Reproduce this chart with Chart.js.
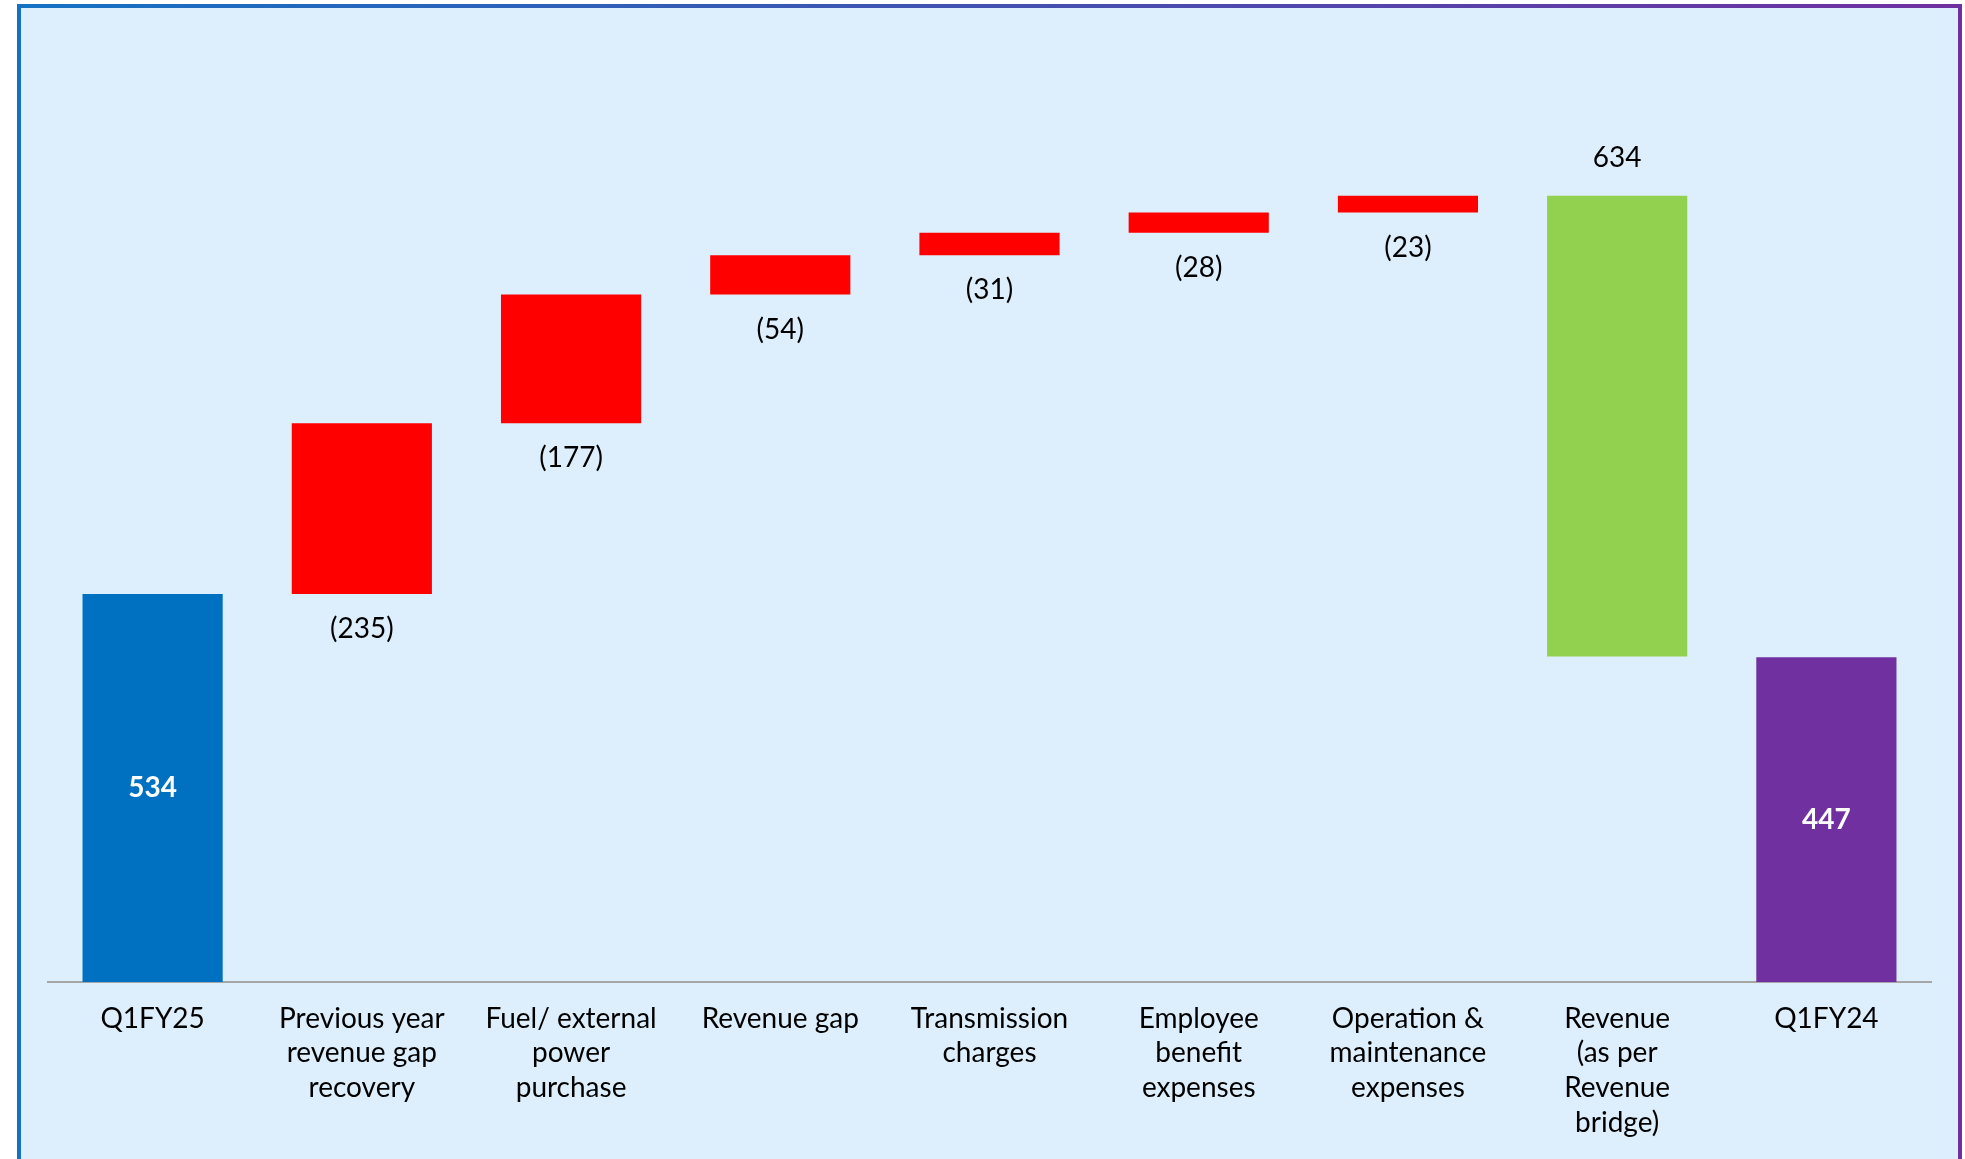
<!DOCTYPE html>
<html>
<head>
<meta charset="utf-8">
<script src="https://cdn.jsdelivr.net/npm/chart.js@4.4.1/dist/chart.umd.min.js"></script>
<style>
  html, body { margin: 0; padding: 0; background: #fff; }
  body { width: 1965px; height: 1159px; position: relative; overflow: hidden; }
  #frame {
    position: absolute; left: 17px; top: 4px; width: 1937px; height: 1151px;
    border: 4px solid; border-image: linear-gradient(to right, #1572C2, #7030A0) 1;
    background: #DDEFFD;
  }
  #myChart { position: absolute; left: 0; top: 0; }
</style>
</head>
<body>
<div id="frame"></div>
<canvas id="myChart" width="1965" height="1159"></canvas>
<script>
const categories = [
  'Q1FY25',
  ['Previous year', 'revenue gap', 'recovery'],
  ['Fuel/ external', 'power', 'purchase'],
  'Revenue gap',
  ['Transmission', 'charges'],
  ['Employee', 'benefit', 'expenses'],
  ['Operation &', 'maintenance', 'expenses'],
  ['Revenue', '(as per', 'Revenue', 'bridge)'],
  'Q1FY24'
];
// start, deductions, revenue bridge, end
const values = [534, -235, -177, -54, -31, -28, -23, 634, 447];
const kinds = ['start', 'down', 'down', 'down', 'down', 'down', 'down', 'up', 'end'];
const valueLabels = ['534', '(235)', '(177)', '(54)', '(31)', '(28)', '(23)', '634', '447'];

const colors = { start: '#0070C0', down: '#FF0000', up: '#92D050', end: '#7030A0' };

// build floating ranges for the waterfall
let running = 0;
const ranges = values.map((v, i) => {
  const k = kinds[i];
  if (k === 'start') { running = v; return [0, v]; }
  if (k === 'down') { const r = [running, running - v]; running -= v; return r; }
  if (k === 'up') { return [running - v, running]; }
  return [0, v];
});

const fontFam = 'Lato, "Open Sans", sans-serif';

const labelPlugin = {
  id: 'barLabels',
  afterDatasetsDraw(chart) {
    const c = chart.ctx;
    const meta = chart.getDatasetMeta(0);
    c.save();
    c.textAlign = 'center';
    c.textBaseline = 'middle';
    meta.data.forEach((bar, i) => {
      const k = kinds[i];
      const top = Math.min(bar.y, bar.base);
      const bottom = Math.max(bar.y, bar.base);
      let y;
      if (k === 'start' || k === 'end') {
        c.fillStyle = '#ffffff';
        c.font = 'bold 28px ' + fontFam;
        y = (top + bottom) / 2;
      } else if (k === 'up') {
        c.fillStyle = '#000000';
        c.font = '28px ' + fontFam;
        y = top - 38;
      } else {
        c.fillStyle = '#000000';
        c.font = '28px ' + fontFam;
        y = bottom + 35;
      }
      c.fillText(valueLabels[i], bar.x, y);
    });
    c.restore();
  }
};

new Chart(document.getElementById('myChart'), {
  type: 'bar',
  data: {
    labels: categories,
    datasets: [{
      data: ranges,
      backgroundColor: kinds.map(k => colors[k]),
      borderWidth: 0,
      borderSkipped: false,
      categoryPercentage: 1,
      barPercentage: 0.67
    }]
  },
  options: {
    responsive: false,
    animation: false,
    layout: { padding: { left: 48, right: 34, top: 110, bottom: 0 } },
    scales: {
      y: { display: false, min: 0, max: 1200 },
      x: {
        grid: { display: false, drawTicks: false },
        border: { display: true, color: '#A6A6A6', width: 2 },
        ticks: {
          color: '#000000',
          padding: 19,
          maxRotation: 0,
          autoSkip: false,
          font: { size: 28, family: fontFam, lineHeight: 1.24 }
        }
      }
    },
    plugins: {
      legend: { display: false },
      tooltip: { enabled: false }
    }
  },
  plugins: [labelPlugin]
});
</script>
</body>
</html>
